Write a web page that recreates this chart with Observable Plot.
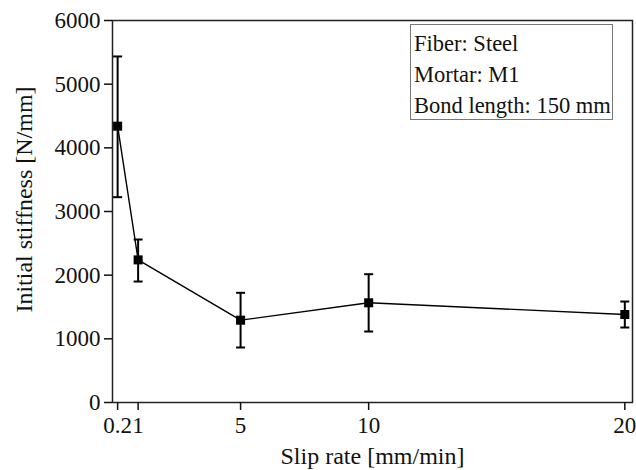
<!DOCTYPE html>
<html>
<head>
<meta charset="utf-8">
<script src="https://cdn.jsdelivr.net/npm/d3@7"></script>
<script src="https://cdn.jsdelivr.net/npm/@observablehq/plot@0.6"></script>
<style>
  html, body { margin: 0; padding: 0; background: #fff; }
  #wrap { position: relative; width: 636px; height: 470px; font-family: "Liberation Serif", "Times New Roman", serif; }
  #legend { position: absolute; left: 410px; top: 24px; width: 203px; height: 96px; border: 1px solid #777; box-sizing: border-box; font-size: 22.5px; line-height: 31px; padding: 3px 0 0 3px; color: #111; background: #fff; white-space: nowrap; }
</style>
</head>
<body>
<div id="wrap"><div id="legend"></div></div>
<script>
const slipRates = [0.2, 1, 5, 10, 20];
const stiffness = [4340, 2240, 1293, 1566, 1382];
const errLow = [3225, 1900, 864, 1115, 1178];
const errHigh = [5435, 2560, 1723, 2015, 1586];
const xTicks = [0.2, 1, 5, 10, 20];
const yTicks = [0, 1000, 2000, 3000, 4000, 5000, 6000];
const xLabel = "Slip rate [mm/min]";
const yLabel = "Initial stiffness [N/mm]";
const legendLines = ["Fiber: Steel", "Mortar: M1", "Bond length: 150 mm"];

const data = slipRates.map((x, i) => ({x, y: stiffness[i], lo: errLow[i], hi: errHigh[i]}));

const cap = {draw(ctx) { ctx.moveTo(-4.5, 0); ctx.lineTo(4.5, 0); }};

const chart = Plot.plot({
  width: 636,
  height: 470,
  marginLeft: 112,
  marginRight: 4,
  marginTop: 20,
  marginBottom: 68,
  style: {fontFamily: '"Liberation Serif", "Times New Roman", serif', fontSize: "23px", color: "#111", background: "#fff"},
  x: {domain: [0, 20.3]},
  y: {domain: [0, 6000]},
  marks: [
    Plot.frame({stroke: "#222", strokeWidth: 1.5}),
    Plot.axisX({ticks: xTicks, tickFormat: d => String(d), tickSize: 8, tickPadding: 6, fontSize: 23, label: null, strokeWidth: 1.5}),
    Plot.axisY({ticks: yTicks, tickFormat: d => String(d), tickSize: 8, tickPadding: 4, fontSize: 23, label: null, strokeWidth: 1.5}),
    Plot.text([xLabel], {text: d => d, frameAnchor: "bottom", lineAnchor: "bottom", textAnchor: "middle", dy: 61, fontSize: 24, fill: "#111"}),
    Plot.text([yLabel], {text: d => d, frameAnchor: "left", lineAnchor: "bottom", textAnchor: "middle", rotate: -90, dx: -81, dy: -12, fontSize: 24, fill: "#111"}),
    Plot.line(data, {x: "x", y: "y", stroke: "#000", strokeWidth: 1.4}),
    Plot.ruleX(data, {x: "x", y1: "lo", y2: "hi", stroke: "#000", strokeWidth: 2}),
    Plot.dot(data, {x: "x", y: "hi", symbol: cap, stroke: "#000", strokeWidth: 2, fill: "none"}),
    Plot.dot(data, {x: "x", y: "lo", symbol: cap, stroke: "#000", strokeWidth: 2, fill: "none"}),
    Plot.dot(data, {x: "x", y: "y", symbol: "square", r: 5.1, fill: "#000", stroke: "none"})
  ]
});

const wrap = document.getElementById("wrap");
wrap.insertBefore(chart, wrap.firstChild);
document.getElementById("legend").innerHTML = legendLines.map(t => `<div>${t}</div>`).join("");
</script>
</body>
</html>
